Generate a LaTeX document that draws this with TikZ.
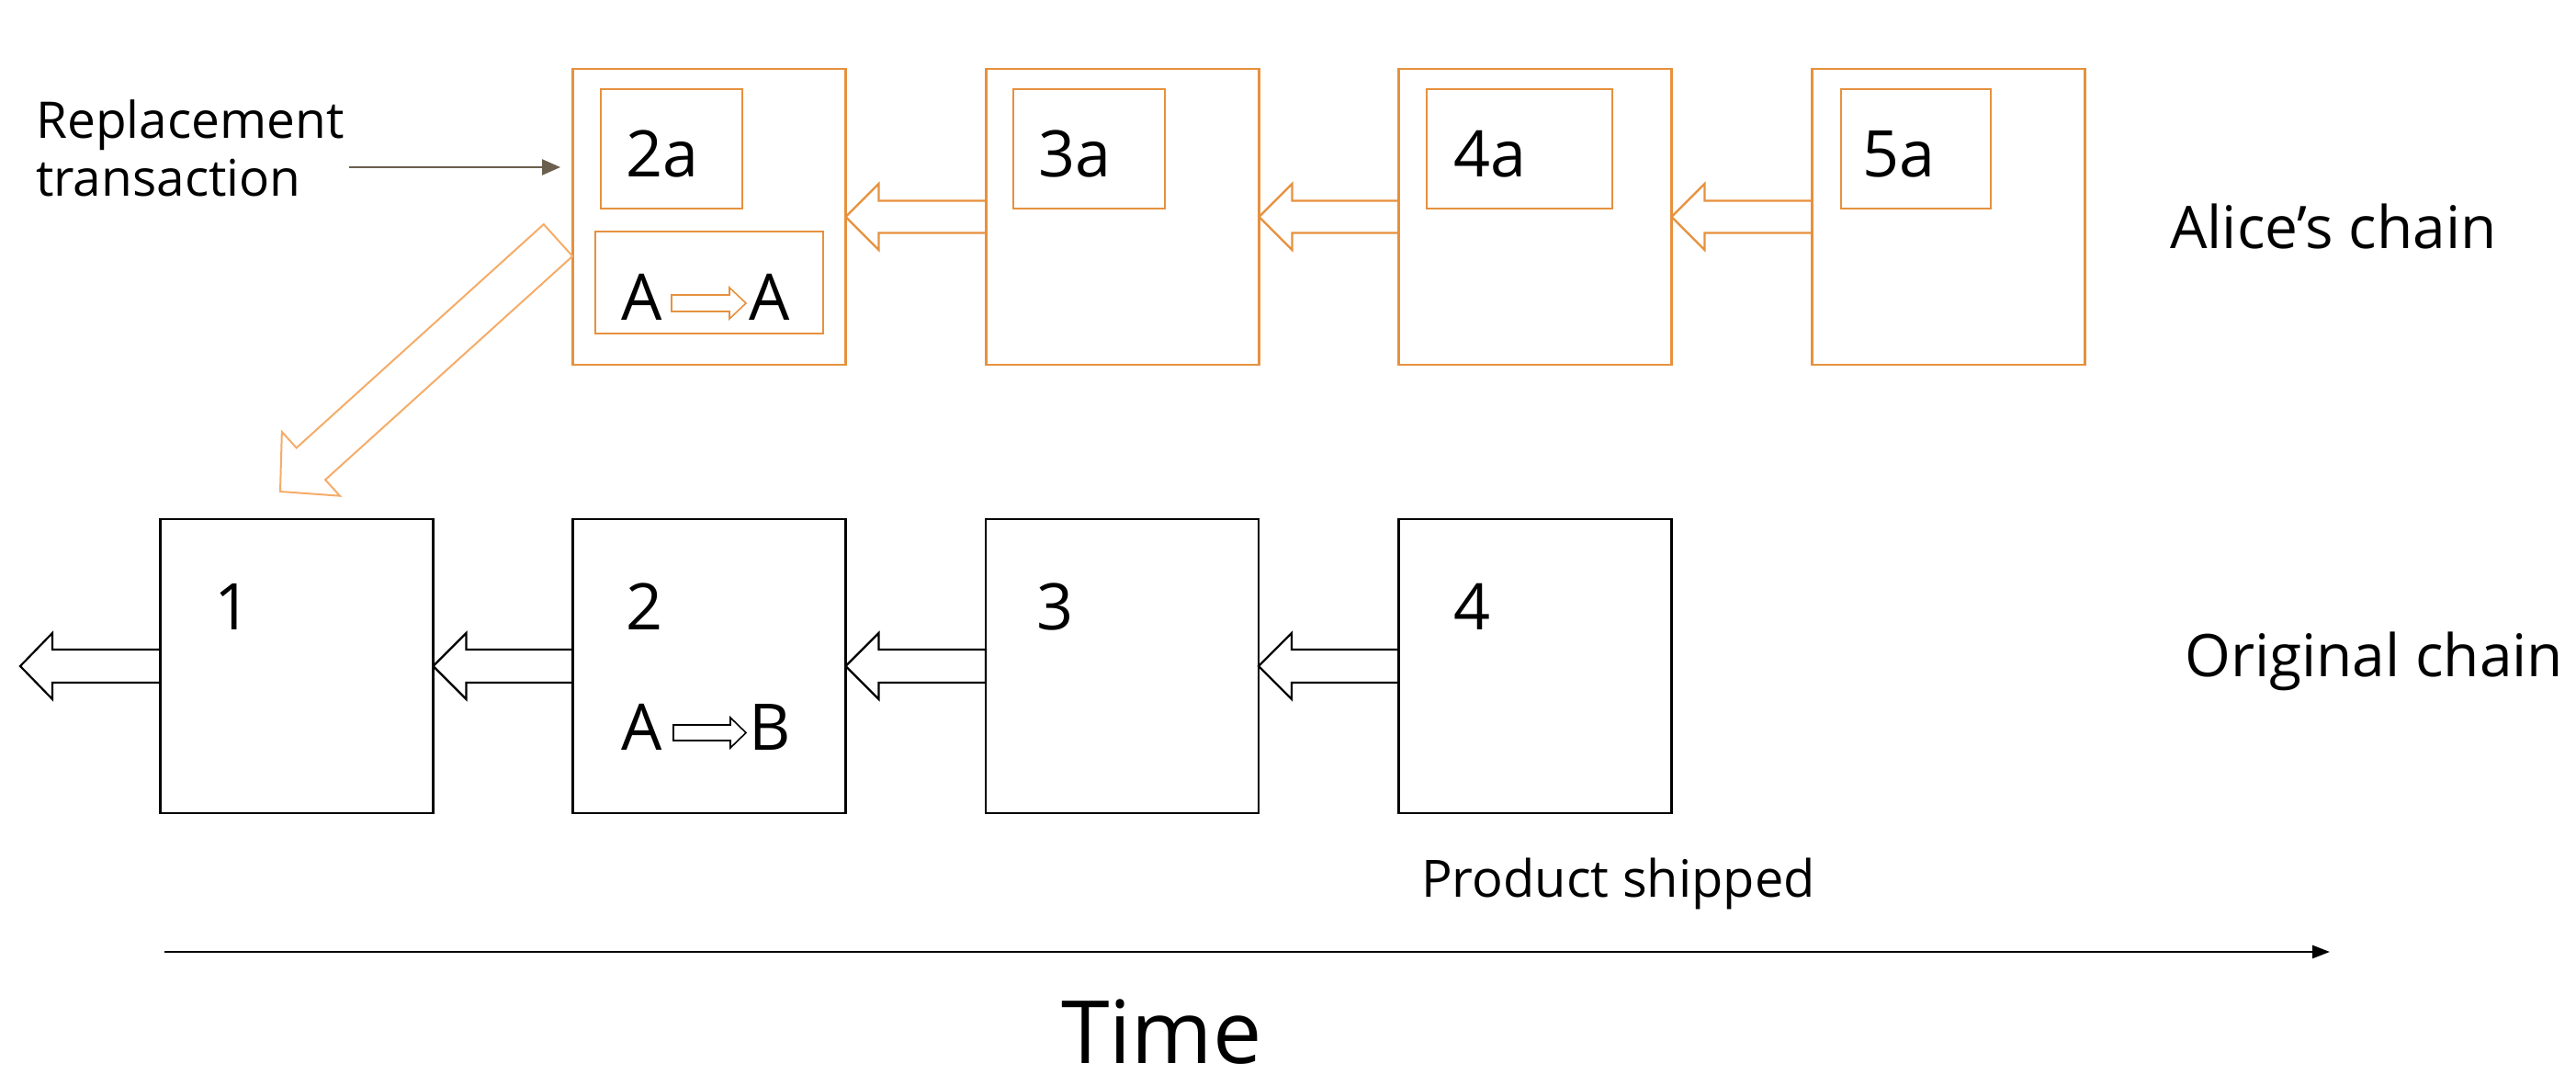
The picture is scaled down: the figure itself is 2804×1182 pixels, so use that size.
\documentclass[tikz,border=0pt]{standalone}
\usepackage{fontspec}
\setmainfont{Open Sans}
\usetikzlibrary{calc,arrows.meta}
\definecolor{orng}{RGB}{230,145,62}
\definecolor{lorng}{RGB}{245,172,104}
\definecolor{brn}{RGB}{107,95,78}
% block arrow: style, tail, tip, shaft half-width, head half-width, head length
\newcommand\barrow[6]{%
  \coordinate (ab) at ($(#3)!#6!(#2)$);
  \draw[#1] ($(#2)!#4!90:(#3)$) -- ($(ab)!#4!90:(#3)$) -- ($(ab)!#5!90:(#3)$) -- (#3)
    -- ($(ab)!#5!-90:(#3)$) -- ($(ab)!#4!-90:(#3)$) -- ($(#2)!#4!-90:(#3)$) -- cycle;}
\begin{document}
\begin{tikzpicture}[x=1pt,y=-1pt,
  bbox/.style={draw=black, line width=2.5pt, minimum width=297pt, minimum height=320pt, inner sep=0pt, outer sep=0pt},
  obox/.style={draw=orng, line width=2.5pt, minimum width=297pt, minimum height=322pt, inner sep=0pt, outer sep=0pt},
  ibox/.style={draw=orng, line width=2.2pt, minimum height=130pt, inner sep=0pt, outer sep=0pt},
  lbl/.style={anchor=base west, inner sep=0pt, font=\fontsize{70}{84}\selectfont},
  txt/.style={anchor=base west, inner sep=0pt},
  blkarr/.style={draw=black, line width=2.2pt, line join=miter},
  orarr/.style={draw=orng, line width=2.2pt, line join=miter},
  diarr/.style={draw=lorng, line width=2pt, line join=miter},
  smallblk/.style={draw=black, line width=1.6pt, line join=miter},
  smallor/.style={draw=orng, line width=1.6pt, line join=miter}
]
\useasboundingbox (0,0) rectangle (2804,1182);

% original chain
\node[bbox] (b1) at (323,725) {};
\node[bbox] (b2) at (772,725) {};
\node[bbox] (b3) at (1221.5,725) {};
\node[bbox] (b4) at (1671,725) {};
\node[lbl] (l1) at (233,685) {1};
\node[lbl] (l2) at (681,685) {2};
\node[lbl] (l3) at (1128,685) {3};
\node[lbl] (l4) at (1582,685) {4};

% Alice's chain
\node[obox] (a2) at (772,236) {};
\node[obox] (a3) at (1222,236) {};
\node[obox] (a4) at (1671,236) {};
\node[obox] (a5) at (2121,236) {};
\node[ibox, minimum width=154pt] (i2) at (731,162) {};
\node[ibox, minimum width=165pt] (i3) at (1185.5,162) {};
\node[ibox, minimum width=202pt] (i4) at (1654,162) {};
\node[ibox, minimum width=163pt] (i5) at (2085.5,162) {};
\node[ibox, minimum width=248pt, minimum height=111pt] (tx) at (772,307.5) {};
\node[lbl] (l2a) at (681,193) {2a};
\node[lbl] (l3a) at (1130,193) {3a};
\node[lbl] (l4a) at (1582,193) {4a};
\node[lbl] (l5a) at (2027,193) {5a};

% transactions
\node[lbl] (tA1) at (676,348) {A};
\node[lbl] (tA2) at (815,348) {A};
\coordinate (sa1) at (731,330);
\coordinate (sb1) at (812,330);
\barrow{smallor}{sa1}{sb1}{9pt}{17pt}{18pt}
\node[lbl] (oA) at (676,816) {A};
\node[lbl] (oB) at (815,816) {B};
\coordinate (sa2) at (733,797.5);
\coordinate (sb2) at (812,797.5);
\barrow{smallblk}{sa2}{sb2}{8.5pt}{16.5pt}{17pt}

% block arrows bottom
\coordinate (lt) at (22,725);
\barrow{blkarr}{b1.west}{lt}{18pt}{36pt}{35pt}
\barrow{blkarr}{b2.west}{b1.east}{18pt}{36pt}{36pt}
\barrow{blkarr}{b3.west}{b2.east}{18pt}{36pt}{36pt}
\barrow{blkarr}{b4.west}{b3.east}{18pt}{36pt}{36pt}
% block arrows top
\barrow{orarr}{a3.west}{a2.east}{17.5pt}{36pt}{36pt}
\barrow{orarr}{a4.west}{a3.east}{17.5pt}{36pt}{36pt}
\barrow{orarr}{a5.west}{a4.east}{17.5pt}{36pt}{36pt}
% diagonal arrow
\coordinate (dt) at (607.5,261.5);
\coordinate (dh) at (305,535);
\barrow{diarr}{dt}{dh}{23.4pt}{47pt}{45pt}

% replacement transaction
\node[txt, font=\fontsize{55}{66}\selectfont] (rt1) at (39,151) {Replacement};
\node[txt, font=\fontsize{55}{66}\selectfont] (rt2) at (39,214) {transaction};
\coordinate (rs) at (380,182);
\coordinate (re) at (610,182);
\draw[brn, line width=2.5pt, -{Triangle[length=20pt,width=17pt]}] (rs) -- (re);

% chain labels
\node[txt, font=\fontsize{64}{77}\selectfont] (alice) at (2362,270) {Alice’s chain};
\node[txt, font=\fontsize{64}{77}\selectfont] (orig) at (2378,736) {Original chain};
\node[txt, font=\fontsize{56}{67}\selectfont] (ship) at (1547,976) {Product shipped};

% time axis
\coordinate (t0) at (179,1036);
\coordinate (t1) at (2536,1036);
\draw[black, line width=2.5pt, -{Triangle[length=19pt,width=14pt]}] (t0) -- (t1);
\node[txt, font=\fontsize{95}{114}\selectfont] (time) at (1155,1157) {Time};
\end{tikzpicture}
\end{document}
